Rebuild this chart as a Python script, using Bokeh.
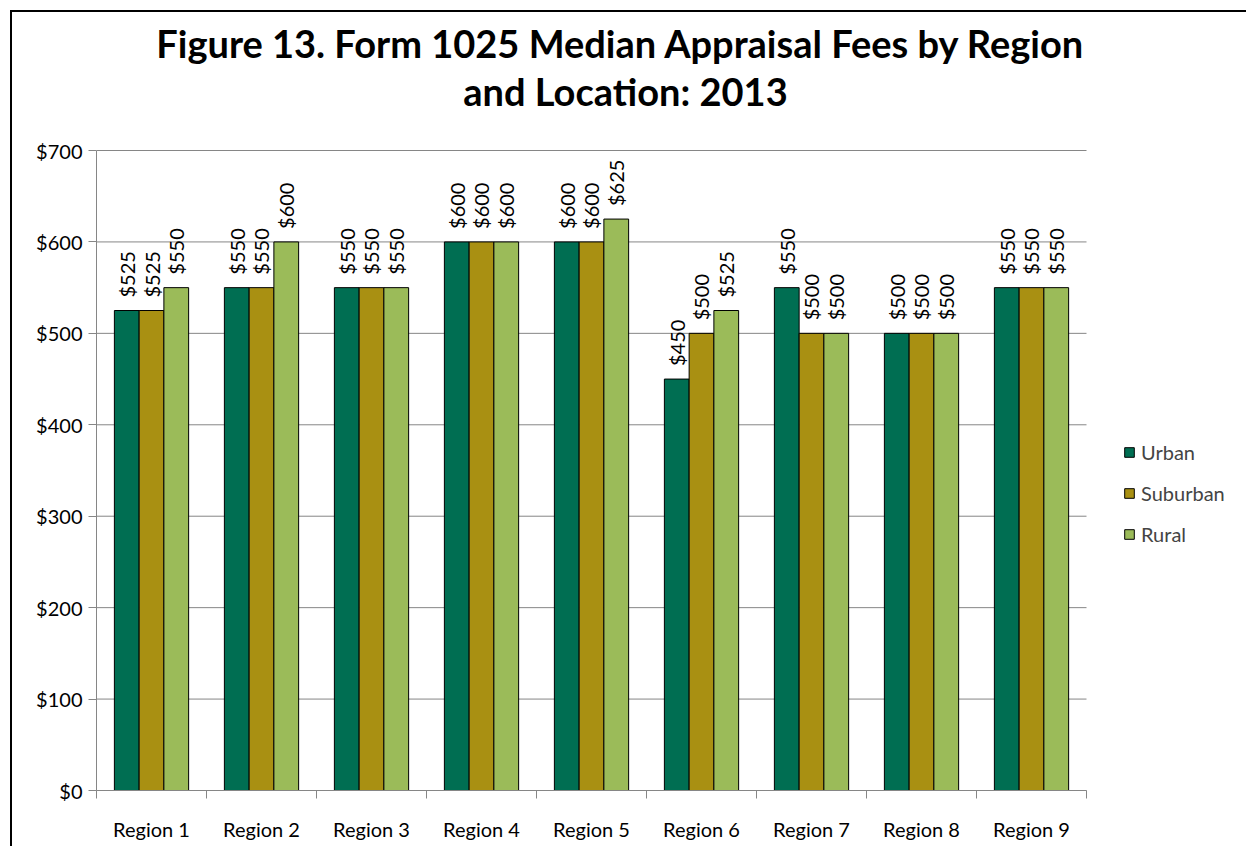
import math
from bokeh.plotting import figure
from bokeh.models import (ColumnDataSource, Range1d, LinearAxis, Label,
                          FixedTicker, NumeralTickFormatter, Legend,
                          LegendItem, LabelSet)
from bokeh.core.properties import value
from bokeh.transform import dodge
from bokeh.embed import file_html
from bokeh.resources import INLINE

regions = ["Region 1", "Region 2", "Region 3", "Region 4", "Region 5",
           "Region 6", "Region 7", "Region 8", "Region 9"]
urban = [525, 550, 550, 600, 600, 450, 550, 500, 550]
suburban = [525, 550, 550, 600, 600, 500, 500, 500, 550]
rural = [550, 600, 550, 600, 625, 525, 500, 500, 550]
y_ticks = [0, 100, 200, 300, 400, 500, 600, 700]
series_names = ["Urban", "Suburban", "Rural"]
colors = ["#006E52", "#A99012", "#9BBB59"]
title_lines = ["Figure 13.  Form 1025 Median Appraisal Fees by Region", "and Location: 2013"]

FONT = "Lato"
GREY = "#868686"
FS = "20px"

n = len(regions)
y_top = y_ticks[-1]
centers = [i + 0.5 for i in range(n)]
src = ColumnDataSource(dict(
    x=centers, regions=regions,
    urban=urban, suburban=suburban, rural=rural,
    urban_lbl=[f"${v}" for v in urban],
    suburban_lbl=[f"${v}" for v in suburban],
    rural_lbl=[f"${v}" for v in rural],
))

# geometry (pixels): plot area 990 x 640; the frame is extended up and to the right
# so that the title and legend can live inside it without being clipped
W, H = 1236, 836
LEFT, BOTTOM = 84, 58
PLOT_W, PLOT_H = 990, 640
frame_w = W - LEFT
frame_h = H - BOTTOM
x_max = n * frame_w / PLOT_W
y_max = y_top * frame_h / PLOT_H

p = figure(x_range=Range1d(0, x_max), y_range=Range1d(0, y_max),
           width=W, height=H, output_backend="svg", toolbar_location=None,
           x_axis_location=None, title=None,
           min_border_left=LEFT, min_border_right=0, min_border_top=0, min_border_bottom=BOTTOM)
p.styles = {"margin-left": "10px", "margin-top": "10px",
            "border-top": "2px solid black", "border-left": "2px solid black"}
p.outline_line_color = None
p.xgrid.visible = False
p.ygrid.visible = False

# horizontal gridlines across the plot area only
p.segment(x0=[0] * len(y_ticks), x1=[n] * len(y_ticks), y0=y_ticks, y1=y_ticks,
          line_color=GREY, line_width=1)

yax = p.yaxis[0]
yax.ticker = FixedTicker(ticks=y_ticks)
yax.bounds = (0, y_top)
yax.formatter = NumeralTickFormatter(format="$0")
yax.axis_line_color = GREY
yax.major_tick_line_color = GREY
yax.major_tick_in = 0
yax.major_tick_out = 8
yax.minor_tick_line_color = None
yax.major_label_text_font = FONT
yax.major_label_text_font_size = FS
yax.major_label_text_color = "black"
yax.major_label_standoff = 6

# boundary ticks between categories
edges = list(range(n + 1))
edge_axis = LinearAxis(ticker=FixedTicker(ticks=edges), bounds=(0, n),
                       major_label_overrides={e: "" for e in edges},
                       axis_line_color=GREY, major_tick_line_color=GREY,
                       major_tick_in=0, major_tick_out=8, minor_tick_line_color=None,
                       major_label_standoff=0)
p.add_layout(edge_axis, "below")
# category labels at centres
cat_axis = LinearAxis(ticker=FixedTicker(ticks=centers), bounds=(0, n),
                      major_label_overrides={c: r for c, r in zip(centers, regions)},
                      axis_line_color=None, major_tick_line_color=None, minor_tick_line_color=None,
                      major_label_text_font=FONT, major_label_text_font_size=FS,
                      major_label_text_color="black", major_label_standoff=12)
p.add_layout(cat_axis, "below")

bw = 0.225
offsets = [-bw, 0.0, bw]
fields = ["urban", "suburban", "rural"]
renderers = []
for f, off, c in zip(fields, offsets, colors):
    r = p.vbar(x=dodge("x", off), top=f, width=bw, source=src,
               fill_color=c, line_color="black", line_width=1)
    renderers.append(r)
    lbl = LabelSet(x=dodge("x", off), y=f, text=f + "_lbl",
                   angle=math.pi / 2, text_align="left", text_baseline="middle",
                   y_offset=13, source=src, text_font=value(FONT), text_font_size=FS,
                   text_color="black")
    p.add_layout(lbl)

legend = Legend(items=[LegendItem(label=nm, renderers=[r]) for nm, r in zip(series_names, renderers)],
                location=(1027, 244), border_line_color=None, background_fill_alpha=0,
                glyph_width=12, glyph_height=12, label_text_font=FONT,
                label_text_font_size=FS, spacing=17, padding=0, margin=0,
                label_standoff=6)
p.add_layout(legend)

for txt, yy in zip(title_lines, [748, 700]):
    p.add_layout(Label(x=529, y=yy, x_units="screen", y_units="screen", text=txt,
                       text_align="center", text_baseline="middle", text_font=FONT,
                       text_font_size="38px", text_font_style="bold", text_color="black"))

open("out.html", "w").write(file_html(p, INLINE))
